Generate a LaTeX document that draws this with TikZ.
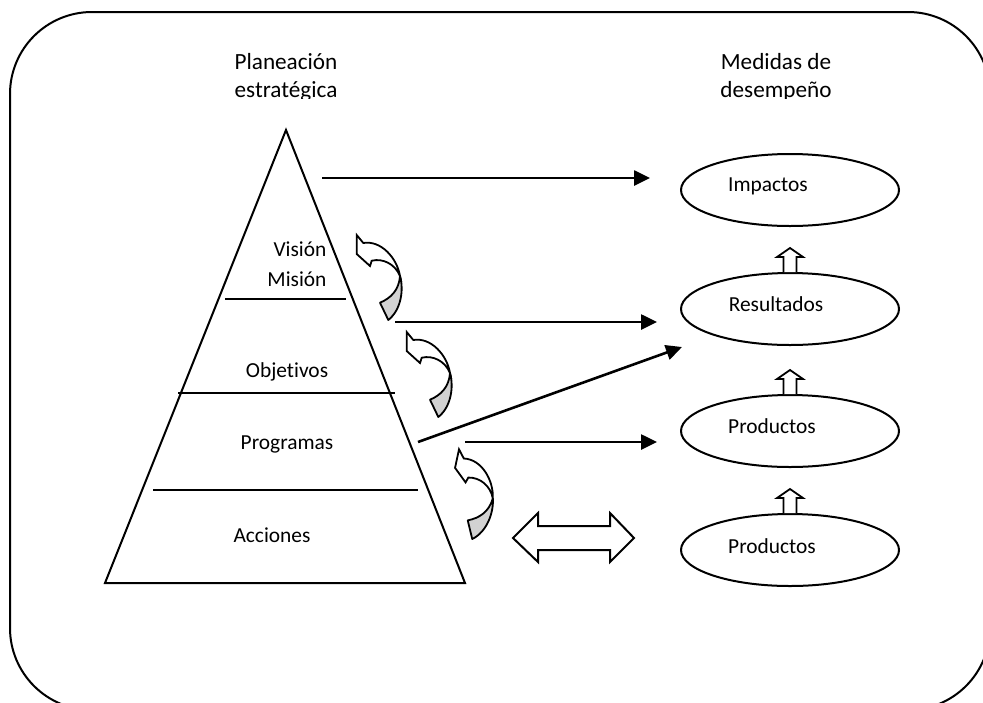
\documentclass[tikz,border=0pt]{standalone}
\usepackage{fontspec}
\setmainfont{Carlito}[Ligatures={NoCommon}]
\usetikzlibrary{shapes.geometric,arrows.meta}
\tikzset{
  pics/curvarr/.style={code={
    \filldraw[fill=gray!35,draw=black,line width=0.9pt,line join=round]
      (43.3,41) .. controls (47.3,55) and (44.3,75) .. (31.6,85) -- (23.3,67.7)
      .. controls (34.3,63) and (42.3,55) .. (43.3,41) -- cycle;
    \filldraw[fill=white,draw=black,line width=0.9pt,line join=miter]
      (0,0) -- (0,19) -- (13.3,31) -- (15,25.7)
      .. controls (26.3,23) and (38.3,29) .. (43.3,41)
      .. controls (40.3,23) and (24.3,5) .. (6.6,8) -- cycle;
  }},
  pics/uparr/.style={code={
    \draw[line width=0.9pt,fill=white,line join=miter]
      (-6.5,0) -- (-6.5,-15) -- (-13,-15) -- (0,-24) -- (13,-15) -- (6.5,-15) -- (6.5,0);
  }}
}
\begin{document}
\begin{tikzpicture}[x=0.5pt,y=-0.5pt,
  every node/.style={font=\fontsize{10.7}{13}\selectfont,inner sep=0pt},
  txt/.style={anchor=base},
  hdr/.style={anchor=base,font=\fontsize{11.6}{14}\selectfont},
  ln/.style={line width=1pt},
  conn/.style={line width=1.3pt,-{Triangle[length=8pt,width=7.5pt]}},
  ell/.style={draw,ellipse,line width=1pt,minimum width=109pt,minimum height=36pt}]
\useasboundingbox (0,0) rectangle (983,702);
\clip (0,0) rectangle (983,702);
\fill[white] (0,0) rectangle (983,702);
% frame
\draw[line width=1pt,rounded corners=41pt] (10,12) rectangle (990,710);
% headers (clipped bottom as in reference)
\begin{scope}
\clip (0,0) rectangle (983,98);
\node[hdr] (plan) at (286,69) {Planeación};
\node[hdr] (estr) at (286,97) {estratégica};
\node[hdr] (medi) at (776,69) {Medidas de};
\node[hdr] (dese) at (776,97) {desempeño};
\end{scope}
% pyramid
\coordinate (apex) at (286,130);
\coordinate (bl) at (105,583);
\coordinate (br) at (465,583);
\draw[ln,line join=miter] (apex) -- (bl) -- (br) -- cycle;
\coordinate (l1a) at (225,299); \coordinate (l1b) at (346,299);
\coordinate (l2a) at (178,393); \coordinate (l2b) at (395,393);
\coordinate (l3a) at (153,490); \coordinate (l3b) at (418,490);
\draw[ln] (l1a) -- (l1b);
\draw[ln] (l2a) -- (l2b);
\draw[ln] (l3a) -- (l3b);
\node[txt] (vis) at (300,256) {Visión};
\node[txt] (mis) at (297,286) {Misión};
\node[txt] (obj) at (287,377) {Objetivos};
\node[txt] (prg) at (287,449) {Programas};
\node[txt] (acc) at (272,542) {Acciones};
% ellipses
\node[ell] (imp) at (790,190) {};
\node[ell] (res) at (790,309) {};
\node[ell] (pr1) at (790,431) {};
\node[ell] (pr2) at (790,550) {};
\node[txt] (timp) at (768,191) {Impactos};
\node[txt] (tres) at (776,311) {Resultados};
\node[txt] (tpr1) at (772,433) {Productos};
\node[txt] (tpr2) at (772,553) {Productos};
\pic at (res.north) {uparr};
\pic at (pr1.north) {uparr};
\pic at (pr2.north) {uparr};
% arrows
\coordinate (s1) at (322,178); \coordinate (e1) at (650,178);
\coordinate (s2) at (395,322); \coordinate (e2) at (657,322);
\coordinate (s3) at (418,442); \coordinate (e3) at (682,347);
\coordinate (s4) at (465,442); \coordinate (e4) at (657,442);
\draw[conn] (s1) -- (e1);
\draw[conn] (s2) -- (e2);
\draw[conn] (s3) -- (e3);
\draw[conn] (s4) -- (e4);
% curved arrows
\pic at (356.7,235) {curvarr};
\pic at (406.7,332) {curvarr};
\pic[rotate=-12] at (459,449.3) {curvarr};
% double arrow
\draw[line width=1pt,fill=white,line join=miter]
  (513,538) -- (538,513) -- (538,526) -- (610,526) -- (610,513) -- (634,538)
  -- (610,562) -- (610,550) -- (538,550) -- (538,562) -- cycle;
\end{tikzpicture}
\end{document}
